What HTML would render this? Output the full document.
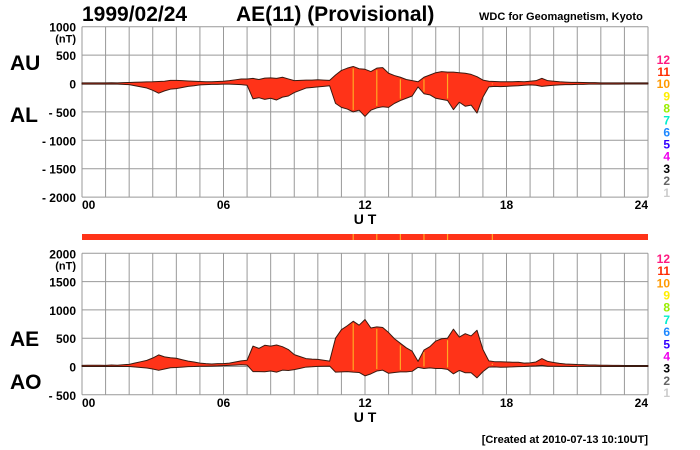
<!DOCTYPE html>
<html><head><meta charset="utf-8"><style>
html,body{margin:0;padding:0;background:#fff;}
svg{display:block;font-family:"Liberation Sans",sans-serif;}
</style></head><body>
<svg id="c" width="700" height="450" viewBox="0 0 700 450"></svg>
<script>
// hours 0..24 step 0.25
const AU = [10,12,10,12,10,14,12,15,
18,22,25,28, 30,35,40,55, 55,50,45,40, 35,30,30,35, 40,50,65,80,
80,90,70,95, 100,90,110,80, 50,55,60,60, 65,60,55,150, 230,270,300,260,
250,210,270,280, 180,140,110,70, 50,30,110,150, 190,210,200,200,
190,180,160,120, 60,40,35,30, 30,30,35,30, 40,50,90,50,
40,30,25,20, 20,18,15,15, 12,12,10,10, 10,10,10,10, 10];
const AL = [-10,-10,-12,-10,-10,-12,-10,-15,
-20,-40,-60,-80, -120,-170,-130,-100, -90,-70,-50,-40, -25,-20,-15,-15,
-10,-10,-15,-20, -30,-270,-250,-280, -260,-290,-240,-220, -160,-120,-80,-70,
-60,-50,-40,-350, -420,-450,-500,-470, -580,-470,-430,-410, -420,-350,-300,-260,
-220,-60,-180,-200, -260,-280,-300,-460, -330,-400,-380,-520, -240,-60,-50,-55,
-50,-45,-40,-30, -25,-30,-50,-40, -30,-25,-20,-20, -15,-15,-12,-12,
-10,-10,-10,-10, -8,-8,-8,-8, -8];
const stationLines = [11.5, 12.5, 13.5, 14.5, 15.5, 17.4];
const topTicks = [1000,500,0,-500,-1000,-1500,-2000];
const botTicks = [2000,1500,1000,500,0,-500];
const xTickLabels = ["00","06","12","18","24"];
const legendNums = ["12","11","10","9","8","7","6","5","4","3","2","1"];
const legendColors = ["#ff1a80","#ff2a00","#ff9900","#ffee00","#99ee00","#00eecc","#1e88ff","#3300ff","#ee00ee","#000000","#666666","#cccccc"];

const svg=document.getElementById('c');
const NS='http://www.w3.org/2000/svg';
function mk(t,a,p){const e=document.createElementNS(NS,t);for(const k in a)e.setAttribute(k,a[k]);(p||svg).appendChild(e);return e;}
const X0=82,X1=648;
const x=h=>X0+(X1-X0)*h/24;
const yTop=v=>83.5-v*28.4/500;
const yBot=v=>366.5-v*28.3/500;
const hrs=AU.map((_,i)=>i*0.25);

function txt(s,xx,yy,o,name){const t=mk('text',Object.assign({x:xx,y:yy},o));t.textContent=s;return t;}

function panel(yf,ticks,yTopPx,yBotPx,upper,lower,pname,ly0,ly1){
  const g=mk('g',{});
  
  
  for(let h=0;h<=24;h++){const l=mk('line',{x1:x(h),x2:x(h),y1:yTopPx,y2:yBotPx,stroke:'#999','stroke-width':1},g);
    }
  ticks.forEach(v=>{const l=mk('line',{x1:X0,x2:X1,y1:yf(v),y2:yf(v),stroke:'#999','stroke-width':1},g);
    
    const lab=(v<0?'- '+(-v):String(v));
    txt(lab,76,yf(v)+5,{'text-anchor':'end','font-size':12,'font-weight':'bold'},'y-tick-label');});
  txt('(nT)',76,yf(ticks[0])+16,{'text-anchor':'end','font-size':11,'font-weight':'bold'},'y-unit');
  let d='M'+hrs.map((h,i)=>x(h)+','+yf(upper[i])).join('L');
  d+='L'+hrs.slice().reverse().map((h,j)=>{const i=hrs.length-1-j;return x(h)+','+yf(lower[i]);}).join('L')+'Z';
  const p=mk('path',{d:d,fill:'#ff3318',stroke:'#3a1a10','stroke-width':1,'stroke-linejoin':'round'},g);
  
  stationLines.forEach(h=>{const i=Math.round(h*4);const l=mk('line',{x1:x(h),x2:x(h),y1:yf(upper[i])+2,y2:yf(lower[i])-2,stroke:'#ffaa22','stroke-width':1.2},g);
    });
  xTickLabels.forEach((s,i)=>{txt(s,x(i*6),yBotPx+12,{'text-anchor':i==0?'start':(i==4?'end':'middle'),'font-size':12,'font-weight':'bold'},'x-tick-label');});
  txt('U T',365,yBotPx+27,{'text-anchor':'middle','font-size':14,'font-weight':'bold'},'x-axis-title');
  legendNums.forEach((s,i)=>{txt(s,670,ly0+(ly1-ly0)*i/11+4,{'text-anchor':'end','font-size':12,'font-weight':'bold',fill:legendColors[i]},'station-count-legend-entry');});
}

txt('1999/02/24',82,21,{'font-size':21,'font-weight':'bold'},'date-title');
txt('AE(11) (Provisional)',236,21,{'font-size':21,'font-weight':'bold'},'chart-title');
txt('WDC for Geomagnetism, Kyoto',479,20,{'font-size':11,'font-weight':'bold'},'source-label');
txt('AU',10,70,{'font-size':21,'font-weight':'bold'},'au-label');
txt('AL',10,122,{'font-size':21,'font-weight':'bold'},'al-label');
txt('AE',10,346,{'font-size':21,'font-weight':'bold'},'ae-label');
txt('AO',10,389,{'font-size':21,'font-weight':'bold'},'ao-label');

panel(yTop,topTicks,yTop(1000),yTop(-2000),AU,AL,'au-al-panel',60,193);
const AE=AU.map((u,i)=>u-AL[i]);
const AO=AU.map((u,i)=>(u+AL[i])/2);
panel(yBot,botTicks,yBot(2000),yBot(-500),AE,AO,'ae-ao-panel',259,393);

const bar=mk('rect',{x:X0,y:234,width:X1-X0,height:6,fill:'#ff3318'});

stationLines.forEach(h=>{const l=mk('line',{x1:x(h),x2:x(h),y1:234,y2:240,stroke:'#ffaa22','stroke-width':1.2});
  });

txt('[Created at 2010-07-13 10:10UT]',648,443,{'text-anchor':'end','font-size':11,'font-weight':'bold'},'created-note');
</script>
</body></html>
